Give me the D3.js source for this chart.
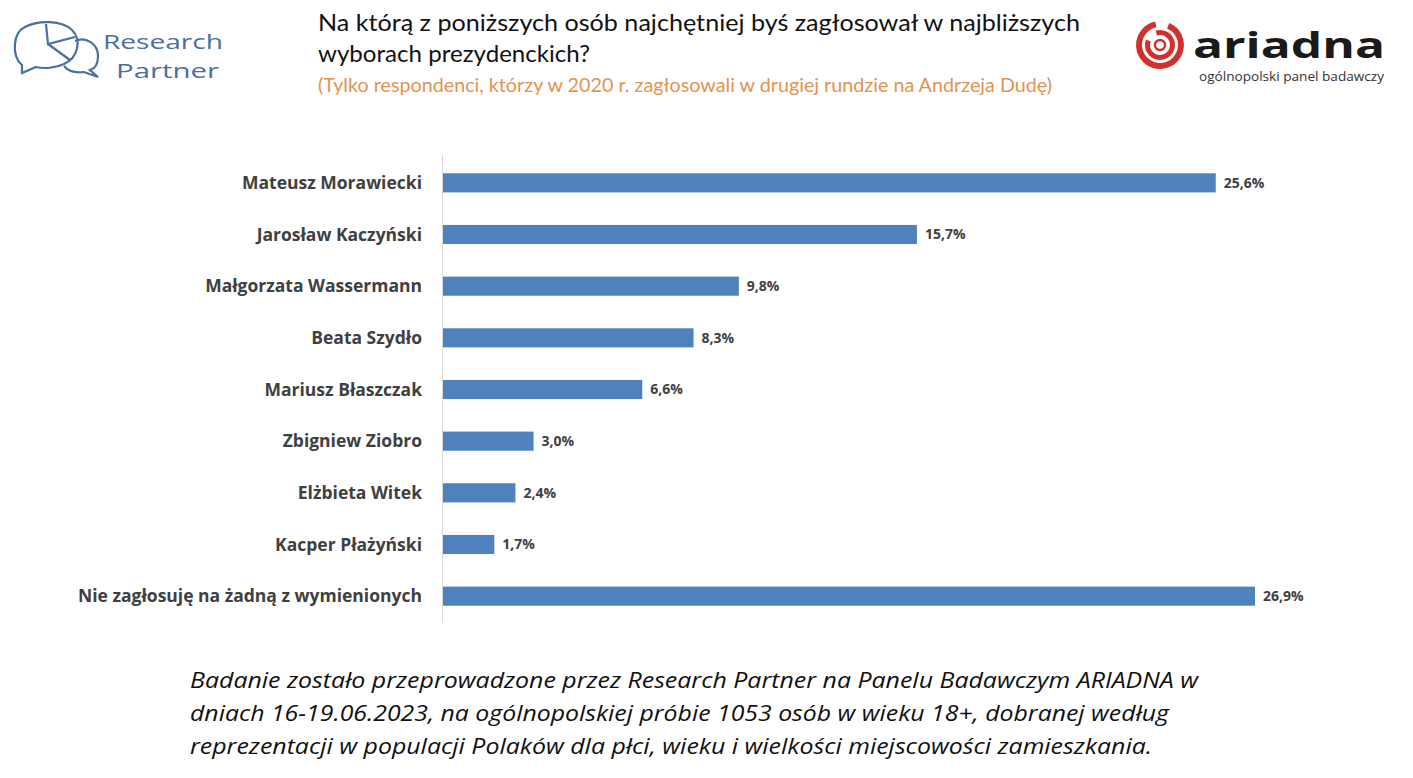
<!DOCTYPE html>
<html><head><meta charset="utf-8">
<script src="https://cdn.jsdelivr.net/npm/d3@7"></script>
<style>html,body{margin:0;padding:0;background:#fff;}</style>
</head><body>
<svg id="c" width="1413" height="778"></svg>
<script>
const categories = ["Mateusz Morawiecki","Jarosław Kaczyński","Małgorzata Wassermann","Beata Szydło","Mariusz Błaszczak","Zbigniew Ziobro","Elżbieta Witek","Kacper Płażyński","Nie zagłosuję na żadną z wymienionych"];
const values = [25.6,15.7,9.8,8.3,6.6,3.0,2.4,1.7,26.9];
const valueLabels = ["25,6%","15,7%","9,8%","8,3%","6,6%","3,0%","2,4%","1,7%","26,9%"];
const titleLines = ["Na którą z poniższych osób najchętniej byś zagłosował w najbliższych","wyborach prezydenckich?"];
const subtitle = "(Tylko respondenci, którzy w 2020 r. zagłosowali w drugiej rundzie na Andrzeja Dudę)";
const footerLines = ["Badanie zostało przeprowadzone przez Research Partner na Panelu Badawczym ARIADNA w","dniach 16-19.06.2023, na ogólnopolskiej próbie 1053 osób w wieku 18+, dobranej według","reprezentacji w populacji Polaków dla płci, wieku i wielkości miejscowości zamieszkania."];

const svg = d3.select("#c");

// Title
const tt = svg.append("g").attr("font-family","Lato, 'Open Sans', sans-serif").attr("fill","#111");
tt.append("text").attr("x",318).attr("y",31).attr("font-size",24).attr("textLength",762).attr("lengthAdjust","spacingAndGlyphs").text(titleLines[0]);
tt.append("text").attr("x",318).attr("y",62).attr("font-size",24).attr("textLength",272).attr("lengthAdjust","spacingAndGlyphs").text(titleLines[1]);
svg.append("text").attr("x",318).attr("y",92).attr("font-family","Lato, sans-serif").attr("font-size",19).attr("fill","#E3934F")
  .attr("textLength",734).attr("lengthAdjust","spacingAndGlyphs").text(subtitle);

// Chart
const x = d3.scaleLinear().domain([0,26.9]).range([443,1255]);
const y = d3.scaleBand().domain(categories).range([157,622]).paddingInner(0.63).paddingOuter(0.315);

svg.append("line").attr("x1",442.5).attr("x2",442.5).attr("y1",155).attr("y2",622).attr("stroke","#d9d9d9").attr("stroke-width",1);

svg.append("g").selectAll("rect").data(values).join("rect")
  .attr("x",x(0)).attr("y",(d,i)=>y(categories[i])).attr("width",d=>x(d)-x(0)).attr("height",y.bandwidth())
  .attr("fill","#4F81BD");

svg.append("g").selectAll("text").data(values).join("text")
  .attr("x",d=>x(d)+8).attr("y",(d,i)=>y(categories[i])+y.bandwidth()/2).attr("dy","0.35em")
  .attr("font-family","'Open Sans', sans-serif").attr("font-weight",700).attr("font-size",14).attr("fill","#404040")
  .text((d,i)=>valueLabels[i]);

svg.append("g").selectAll("text").data(categories).join("text")
  .attr("x",422).attr("y",d=>y(d)+y.bandwidth()/2).attr("dy","0.35em").attr("text-anchor","end")
  .attr("font-family","'Open Sans', sans-serif").attr("font-weight",700).attr("font-size",17.5).attr("fill","#404040")
  .text(d=>d);

// Footer
svg.append("g").selectAll("text").data(footerLines).join("text")
  .attr("x",190).attr("y",(d,i)=>688+i*33).attr("font-family","'Open Sans', sans-serif").attr("font-style","italic")
  .attr("font-size",22).attr("fill","#111")
  .attr("textLength",(d,i)=>[1008,979,962][i]).attr("lengthAdjust","spacingAndGlyphs")
  .text(d=>d);

// Research Partner logo
const rp = svg.append("g").attr("stroke","#4A6FA0").attr("fill","none").attr("stroke-width",2.2);
rp.append("path").attr("d","M22,65 C12,57 12,33 25,27 C38,20 62,20 72,30 C82,40 78,58 64,64 C56,68 44,69 36,67 L22,73 Z");
rp.append("path").attr("d","M46,24 L48,44 L75,37 M48,44 L70,60");
rp.append("path").attr("d","M75,41 C86,36 98,44 98,56 C98,65 94,69 90,70 L98,77 L84,72 C76,73 68,71 64,66");
svg.append("text").attr("x",103).attr("y",49).attr("font-family","'Open Sans', sans-serif").attr("font-size",20).attr("fill","#4A6FA0")
  .attr("textLength",120).attr("lengthAdjust","spacingAndGlyphs").text("Research");
svg.append("text").attr("x",116).attr("y",77.5).attr("font-family","'Open Sans', sans-serif").attr("font-size",20).attr("fill","#4A6FA0")
  .attr("textLength",103).attr("lengthAdjust","spacingAndGlyphs").text("Partner");

// Ariadna logo
const ar = svg.append("g").attr("stroke","#D0312D").attr("fill","none");
ar.append("path").attr("d",d3.arc()({innerRadius:18,outerRadius:24,startAngle:0.4,endAngle:2*Math.PI-0.2})).attr("transform","translate(1160,45)").attr("fill","#D0312D").attr("stroke","none");
ar.append("path").attr("d",d3.arc()({innerRadius:10,outerRadius:15,startAngle:-0.3,endAngle:2*Math.PI-1.2})).attr("transform","translate(1160,45)").attr("fill","#D0312D").attr("stroke","none");
ar.append("circle").attr("cx",1160).attr("cy",45).attr("r",5).attr("stroke-width",2.5);
svg.append("text").attr("x",1193).attr("y",58).attr("font-family","'Open Sans', sans-serif").attr("font-weight",700).attr("font-size",36)
  .attr("fill","#1a1a1a").attr("textLength",192).attr("lengthAdjust","spacingAndGlyphs").text("ariadna");
svg.append("text").attr("x",1199).attr("y",81).attr("font-family","'Open Sans', sans-serif").attr("font-size",12).attr("fill","#333")
  .attr("textLength",185).attr("lengthAdjust","spacingAndGlyphs").text("ogólnopolski panel badawczy");
</script>
</body></html>
